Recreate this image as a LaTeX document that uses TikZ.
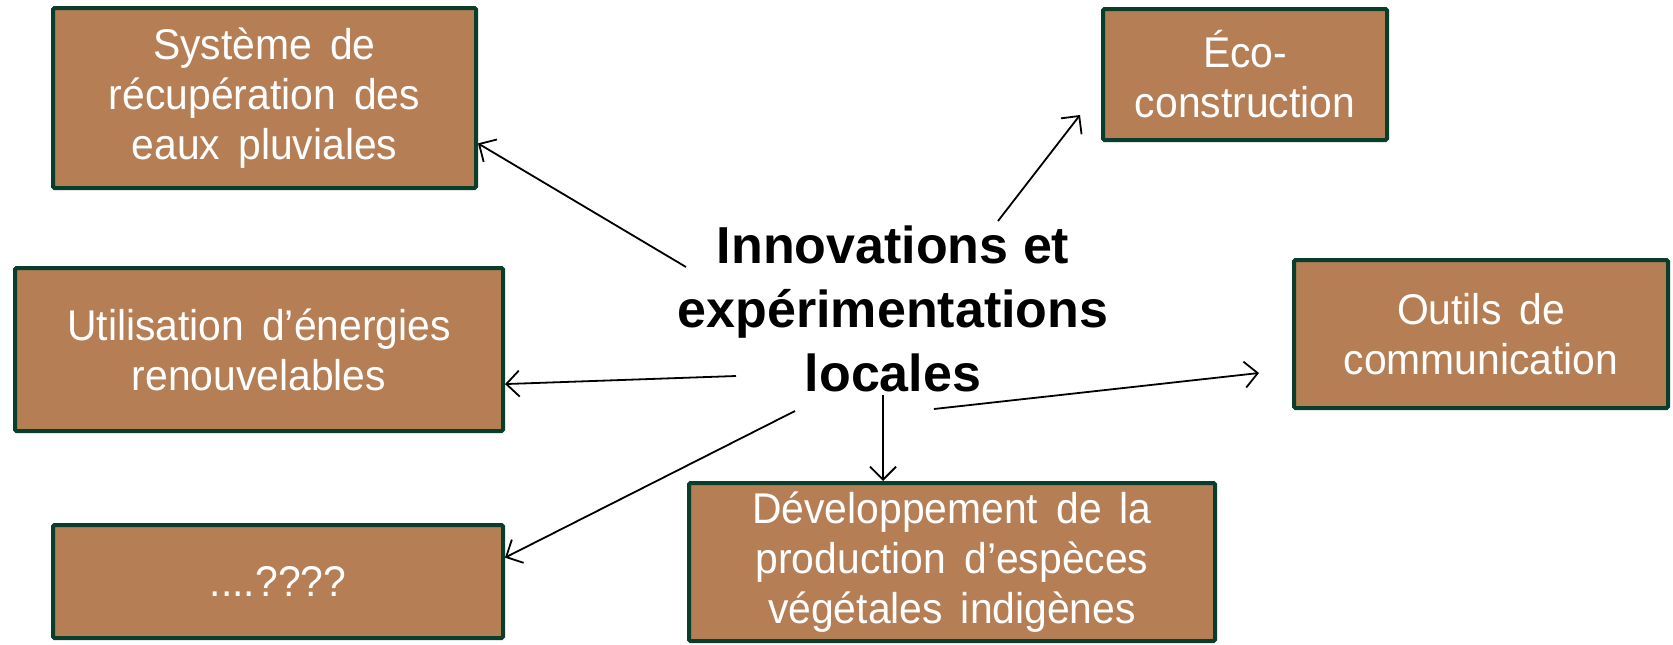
\documentclass[tikz,border=0pt]{standalone}
\usepackage{fontspec}
\setmainfont{Liberation Sans}
\newfontfamily\cardfont{Liberation Sans}[FakeStretch=0.95]
\newcommand\cardtextsetup{\cardfont\fontsize{43}{50}\selectfont\spaceskip 0.42em plus 0.1em\relax}
\usetikzlibrary{arrows.meta}
\definecolor{boxfill}{RGB}{181,126,85}
\definecolor{boxedge}{RGB}{8,62,42}
\begin{document}
\begin{tikzpicture}[x=1pt,y=-1pt,
  card/.style={draw=boxedge, line width=4pt, fill=boxfill, text=white, align=center,
    inner sep=0pt, font=\cardtextsetup, rounded corners=1.5pt},
  title/.style={font=\bfseries\fontsize{52}{64}\selectfont, align=center, inner sep=0pt},
  link/.style={line width=1.8pt, -{Straight Barb[length=13pt,width=26pt,line width=1.8pt]}}]
\useasboundingbox (0,0) rectangle (1673,645);

\node[card, minimum width=423pt, minimum height=180pt] (sys) at (264.5,98)
  {Système de\\récupération des\\eaux pluviales};
\node[card, minimum width=284pt, minimum height=131pt] (eco) at (1245,74.5)
  {Éco-\\construction};
\node[card, minimum width=488pt, minimum height=163pt] (util) at (259,349.5)
  {Utilisation d’énergies\\renouvelables};
\node[card, minimum width=374pt, minimum height=148pt] (out) at (1481,334)
  {Outils de\\communication};
\node[card, minimum width=450pt, minimum height=113pt] (q) at (278,581.5)
  {....????};
\node[card, minimum width=526pt, minimum height=158pt] (dev) at (952,562)
  {Développement de la\\production d’espèces\\végétales indigènes};

\node[title] (main) at (893,309) {Innovations et\\expérimentations\\locales};

\coordinate (a1) at (686,267);
\coordinate (a2) at (998,221);
\coordinate (e2) at (1080,115);
\coordinate (a3) at (736,376);
\coordinate (a4) at (795,411);
\coordinate (a5) at (883,395);
\coordinate (a6) at (934,409);
\coordinate (e6) at (1259,373);

\draw[link] (a1) -- (sys.-12.9);
\draw[link] (a2) -- (e2);
\draw[link] (a3) -- (util.-8.9);
\draw[link] (a4) -- (q.6.7);
\draw[link] (a5) -- (a5 |- dev.north);
\draw[link] (a6) -- (e6);
\end{tikzpicture}
\end{document}
